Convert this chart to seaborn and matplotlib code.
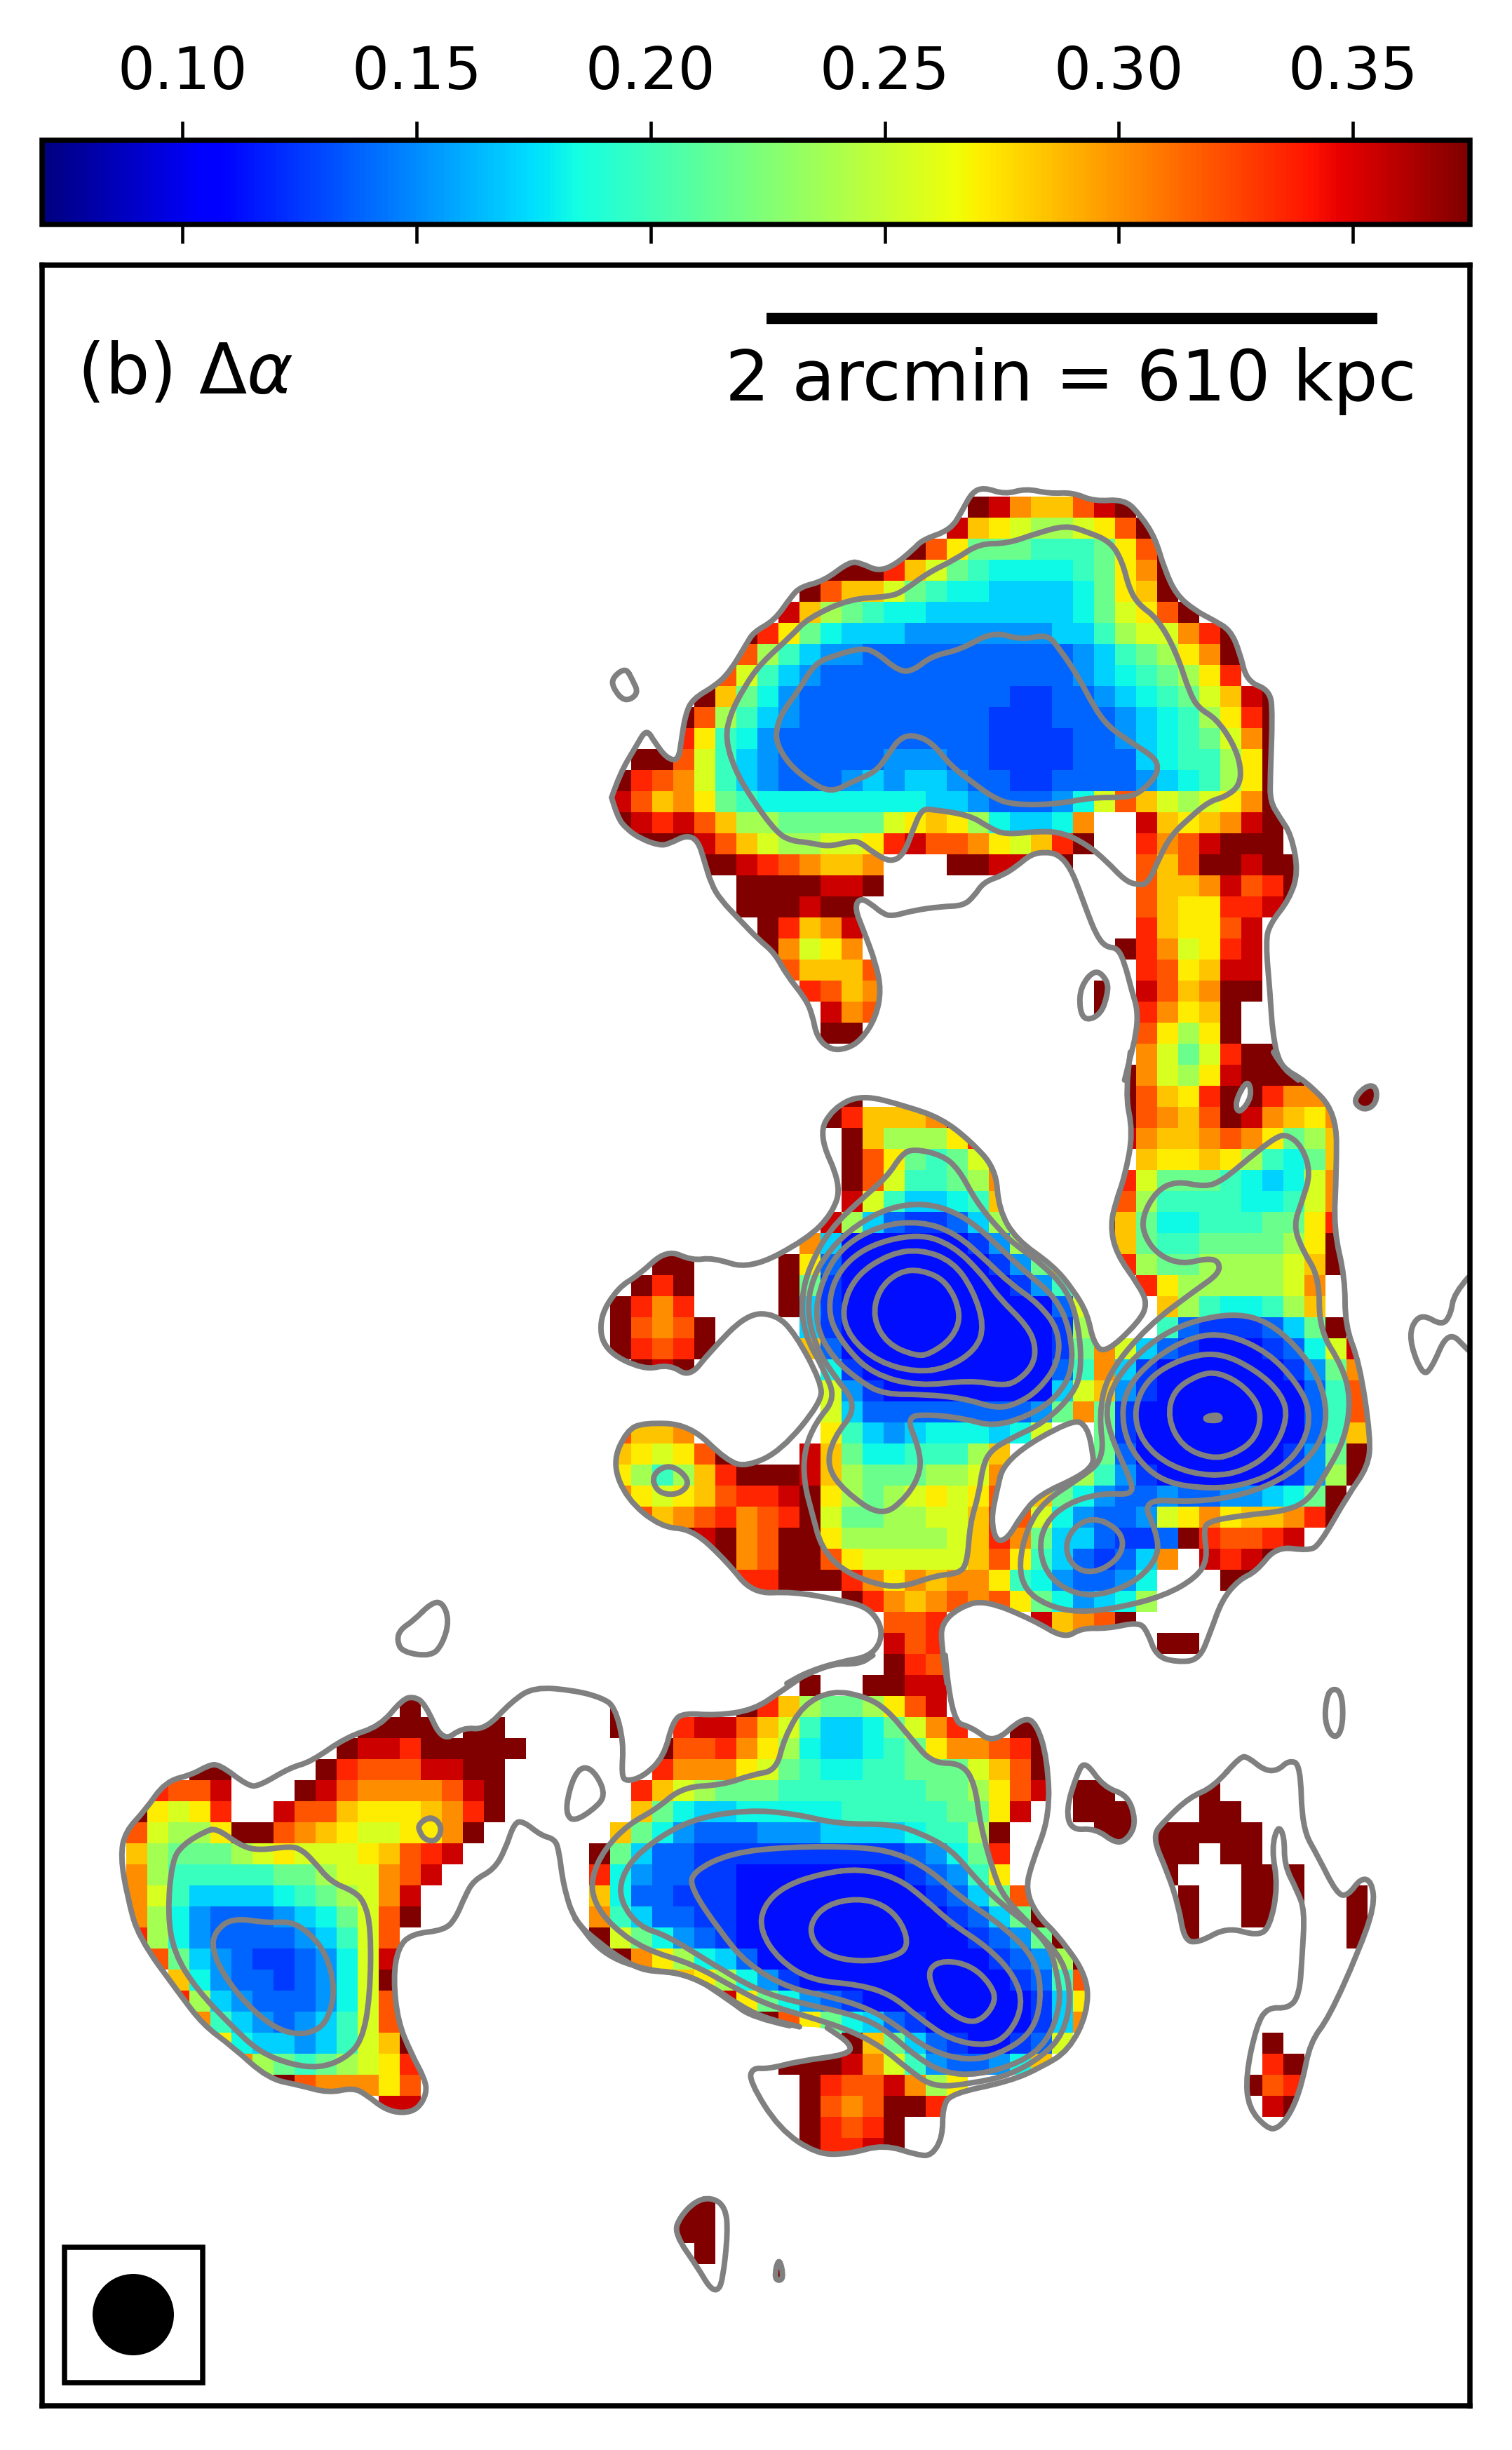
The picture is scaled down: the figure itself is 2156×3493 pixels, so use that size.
import numpy as np
import pandas as pd
import seaborn as sns
import matplotlib
matplotlib.use("Agg")
import matplotlib.pyplot as plt
from matplotlib.patches import Rectangle, Circle, PathPatch
from matplotlib.path import Path

W, H = 2156, 3493
DPI = 300
CELL = 30.0
AX = (60, 378, 2096, 3430)
CB = (60, 200, 2096, 320)
N_COLS, N_ROWS = 68, 102

# colour level (fraction along the jet scale) for every map symbol
LEVELS = dict(a=.14, b=.18, c=.225, d=.27, e=.33, f=.37, g=.42, h=.48, i=.55,
              j=.61, k=.66, l=.70, m=.76, n=.82, o=.87, p=.93, q=1.0)
VMIN, VMAX = 0.07, 0.375
CBAR_TICKS = [0.10, 0.15, 0.20, 0.25, 0.30, 0.35]

UPPER_ROWS = {
 11: "44:qpmllnpq",
 12: "43:plkjiijknq",
 13: "41:qnkhhhggghknq",
 14: "37:qqqoljhgffffghkmq",
 15: "36:qnlljhgffeeeefhklq",
 16: "35:plihgffeeeeeeefhjknq",
 17: "33:qokhfeeedddddddeegijjmoq",
 18: "32:qnigeddccccccccccdeghikmq",
 19: "31:qnjgedccccccccccccdefghiko",
 20: "31:qlhfdccccccccccbbccdefghjlpq",
 21: "30:qnigedcccccccccbbbcccdefgikoq",
 22: "30:okgfdccccccccccbbbbccdefghjmq",
 23: "28:qqnjgedcccccdddccbbbbcccefggikq",
 24: "27:qonmjgedcccdedeedccbbccccdefgikq",
 25: "27:pnlmkhgffffffffeedcccdfjnljijkmq",
 26: "27:qpopnliihhhhhjklkifeefm 52:plklmpq",
 27: "28:qqqpnljiijjkopnnmkjloq 52:omnpqqq",
 28: "30:qqqponmllm 43:qqppqq 52:nlnqqpqq",
 29: "33:qqqqppq 52:nllmpnoq",
 30: "33:qqqpqq 52:nlkkoopq",
 31: "34:qolmp 52:olkknp",
 32: "34:qmjkm 51:qomjkop",
 33: "35:nllln 52:onklpp",
 34: "36:onlm 50:q 52:pnlmqq",
 35: "37:pmn 50:q 52:omklq",
 36: "37:qq 52:nkikq",
}
MIDDLE_ROWS = {
 37: "52:mjhjoqq",
 38: "51:qmjikpqqq",
 39: "38:q 51:qnlkoqqommq 62:qq",
 40: "37:qolllmq 51:qnmlnqpmlkm 62:qq",
 41: "38:qliiiko 51:pmllmnmkhil",
 42: "38:qnkhghjn 52:lkklkigfhl",
 43: "38:qnjgghim 51:ojhhhgfefjm",
 44: "38:pjgeefgl 51:niggggffgjm",
 45: "37:piecbbceiq 50:qlhffggghhko",
 46: "36:meaaaaaabdip 51:lhgghhhhikq",
 47: "29:qq 35:qkcaaaaaaabdhl 51:oihhiiiijlq",
 48: "28:qoq 35:qhbaaaaaaaabdgn 52:okiiiiijm",
 49: "27:qomo 35:qebaaaaaaaaaacj 53:ligffgil",
 50: "27:qnmnq 36:ebaaaaaaaaaabiq 53:gcbbbcehq",
 51: "27:qonoq 36:lcaaaaaaaaaabhm 51:jecbaaabcfjp",
 52: "28:qpq 37:fbaaaaaaaaacgmebaaaaaabdhm",
 53: "37:jdbaaaaaaaaejldbaaaaaaacgn",
 54: "37:jeccccccccdhm 50:hbaaaaaaaacgn",
 55: "27:nllm 37:kgedefffefj 50:hbaaaaaaaacgl",
 56: "27:lkjknq 36:plhffgggil 50:hcaaaaaaabdhq",
 57: "27:kigiloqqq 36:plihhhiijm 49:igdbaaaaaabdiq",
 58: "27:mkjklnoop 36:qkihijkjkn 47:lhfdccdccddefhq",
 59: "28:nlmnomnoq 37:jhhiijjlo 46:njfdccdjkmkllmoq",
 60: "30:qpqmnqq 37:kiiiiijlo 46:mheecbbcq 55:onnop",
 61: "32:qmnqq 37:nkjjjjjln 46:kgecbcem 55:popq",
 62: "33:ooqq 37:qomkmlmmkgfdccdf 56:qq",
 63: "38:qomlmnmnkhfdefi",
 64: "40:nno 47:plmnq",
 65: "40:pno 53:qq",
 66: "40:qon",
}
LOWER_ROWS = {
 67: "27:q 36:q 39:qqpp",
 68: "17:q 27:q 33:qolihhiknp",
 69: "15:qqqq 20:qq 27:q 30:oppnljgeefhjmo 46:qq",
 70: "14:qppoqqqqq 29:qnnomkifeefghkmmnoq",
 71: "7:qq 13:qonnnppqq 29:ommmkjhgffgghhhjlnq",
 72: "5:onnp 12:qpnmmmmnpq 28:oljihhhggggggghhiknp 49:qq 55:q",
 73: "4:qkjko 11:pnnlkkklmoq 28:lhfeefffffggggghhkp 49:qqq 55:qq",
 74: "4:njiikqqnmlkjjkkmq 27:lhfdcccdddeeeefggiq 50:qq 53:qqqqq",
 75: "4:lihhhijkjjjklnop 26:qheccbbbbbbbbbbcdfho 53:qq 56:qq",
 76: "4:miggggghhijjmnp 26:ofdccbbaaaaaaaabcdgk 53:q 57:qq 59:q",
 77: "4:mjgeeeefghijmp 26:lfccbbbaaaaaaaaabcehn 54:q 57:qq 59:q 62:q",
 78: "4:mifdcccdefhjnq 26:mgeccbbaaaaaaaaaabcehq 54:q 57:qq 62:q",
 79: "4:oifdccccdegjn 26:qjhfdcbaaaaaaaaaaabcdhq 54:q 62:q",
 80: "5:nhedcbbcdfjp 26:qqmkifecaaaaaaaaaaabcdiq",
 81: "6:lfdccbcdfjq 28:qqlkifdbaaaaaaaaaabcgn",
 82: "6:oiedcccdfjn 32:pkhfdcbaaaaaaaabek",
 83: "7:mgedcdegjn 34:qnkhfecbaaaaabem",
 84: "8:kfeedegjlq 38:qlhecbaabcj 58:q",
 85: "9:mihghijko 35:qqqpmjgdccdfl 58:oq",
 86: "11:qnmmmkn 36:qonnpmik 57:qno",
 87: "16:pp 36:qnmnqqop 58:pq",
 88: "36:qonoq",
 89: "36:qoopq",
 92: "30:qq",
 93: "30:qq",
 94: "31:q",
 95: "34:qq",
}

# contour polylines, each read in its own view: (left, top, x scale, y scale)
VIEW_N = (840, 660, 1.493, 1.782)
VIEW_M = (820, 1500, 1.225, 1.742)
VIEW_W = (140, 2280, 1.568, 1.96)
VIEW_S = (820, 2360, 1.307, 1.704)

OUTER_N_LEFT = [(48,850),(60,900),(80,930),(110,955),(150,972),(170,968),(208,945),(232,960),(245,1010),(260,1070),(280,1110),(320,1160),(360,1210),(395,1245),(420,1300),(460,1360),(475,1400),(485,1460),(515,1492),(550,1488),(580,1465),(610,1410),(622,1340),(610,1270),(585,1190),(565,1130),(577,1105),(600,1120),(625,1145),(645,1152),(690,1137),(750,1127),(797,1125),(820,1100),(840,1065),(880,1048),(910,1025),(940,995),(970,988),(1000,995),(1025,1030),(1045,1090),(1060,1140),(1080,1200),(1100,1230),(1125,1232),(1140,1270),(1155,1340),(1168,1390),(1165,1450),(1150,1520),(1140,1568)]
OUTER_N_RIGHT = [(48,850),(65,790),(100,720),(122,675),(140,710),(165,750),(190,757),(197,700),(205,640),(220,600),(270,565),(300,530),(335,460),(350,430),(395,400),(430,340),(450,315),(500,300),(555,250),(580,255),(615,275),(650,260),(690,220),(710,195),(770,170),(795,120),(815,75),(840,62),(885,80),(930,65),(980,78),(1030,75),(1075,98),(1140,92),(1175,135),(1205,190),(1225,270),(1250,335),(1290,375),(1330,400),(1365,425),(1385,480),(1400,555),(1450,578),(1455,640),(1450,800),(1450,860),(1470,900),(1495,945),(1510,1040),(1490,1110),(1450,1170),(1440,1215),(1450,1350),(1455,1450),(1470,1530),(1510,1568)]
OUTER_M_LEFT = [(970,0),(960,100),(975,200),(960,310),(945,370),(935,430),(945,500),(985,580),(1000,625),(985,670),(925,750),(905,720),(895,650),(870,590),(835,530),(770,465),(740,390),(735,290),(690,220),(640,165),(580,135),(500,105),(450,140),(425,205),(465,330),(450,400),(405,465),(305,540),(240,510),(205,518),(160,490),(110,555),(75,585),(42,660),(50,740),(120,790),(165,775),(200,808),(235,745),(300,650),(350,650),(385,700),(430,820),(430,870),(360,990),(300,1030),(265,1015),(200,925),(120,920),(90,940),(65,1020),(90,1110),(150,1180),(205,1185),(265,1265),(310,1345),(380,1340),(460,1360),(515,1380),(540,1440),(520,1500),(460,1515),(405,1540),(370,1568)]
OUTER_M_RIGHT = [(1220,0),(1235,40),(1275,70),(1330,150),(1330,300),(1325,440),(1345,560),(1345,680),(1370,770),(1390,960),(1385,1030),(1350,1100),(1300,1225),(1280,1238),(1225,1228),(1190,1290),(1160,1310),(1130,1360),(1110,1440),(1090,1510),(1050,1515),(1015,1500),(1000,1440),(985,1415),(930,1432),(885,1430),(855,1457),(800,1410),(715,1360),(670,1380),(640,1420),(640,1470),(650,1568)]
OUTER_W = [(1568,1195),(1500,1175),(1440,1140),(1370,1080),(1290,1040),(1225,1040),(1175,1010),(1120,960),(1065,900),(1040,800),(1030,700),(1020,670),(990,660),(950,620),(930,625),(910,700),(885,755),(840,785),(820,830),(800,890),(775,925),(700,935),(670,975),(660,1060),(670,1180),(700,1270),(730,1340),(735,1380),(715,1425),(680,1437),(640,1425),(600,1385),(570,1365),(515,1380),(450,1358),(380,1340),(300,1250),(235,1190),(180,1100),(90,945),(65,830),(50,720),(60,650),(105,590),(150,510),(210,490),(245,465),(270,460),(335,522),(360,522),(430,470),(475,455),(555,385),(630,355),(680,280),(705,272),(730,290),(770,400),(815,358),(865,365),(925,285),(975,245),(1065,255),(1125,275),(1155,300),(1175,400),(1170,490),(1180,510),(1220,495),(1265,440),(1285,340),(1310,318),(1380,325),(1465,310),(1530,255),(1568,222)]
OUTER_S_TOP = [(418,56),(470,20),(530,22),(555,0)]
OUTER_S_TAIL = [(400,900),(330,880),(290,840),(215,775),(130,765),(50,725),(0,640)]
OUTER_S = [(690,0),(700,160),(740,175),(780,215),(835,150),(860,165),(880,250),(885,390),(850,510),(840,570),(860,630),(900,680),(955,780),(955,870),(920,960),(870,1000),(810,1035),(700,1065),(685,1100),(685,1170),(665,1215),(640,1215),(575,1188),(510,1212),(450,1212),(380,1150),(325,1035),(330,1002),(360,1005),(420,985),(510,970),(515,945),(470,905)]

ISLAND_N = [(1078,1285),(1104,1315),(1104,1350),(1090,1400),(1058,1418),(1044,1390),(1046,1330),(1078,1285)]
ISLAND_M = [(1380,84),(1400,84),(1400,128),(1378,146),(1358,122),(1380,84)]
ISLAND_S_A = [(950,255),(985,320),(1030,340),(1045,400),(1035,440),(1010,460),(970,420),(925,425),(915,375),(935,290),(950,255)]
ISLAND_S_B = [(1240,245),(1255,248),(1285,280),(1310,280),(1330,255),(1352,265),(1355,420),(1385,490),(1420,580),(1440,585),(1465,540),(1485,550),(1490,610),(1460,720),(1405,880),(1370,940),(1355,1040),(1335,1110),(1310,1150),(1290,1150),(1255,1100),(1250,1020),(1270,900),(1290,855),(1330,858),(1350,825),(1355,730),(1360,620),(1345,570),(1322,510),(1322,440),(1310,412),(1298,470),(1310,560),(1295,660),(1272,682),(1215,660),(1160,700),(1135,690),(1125,610),(1105,530),(1075,440),(1100,400),(1145,345),(1190,320),(1240,245)]
ISLAND_S_C = [(255,1317),(280,1340),(285,1400),(275,1520),(265,1545),(250,1535),(230,1490),(185,1405),(195,1365),(225,1325),(255,1317)]
ISLAND_S_D = [(380,1458),(390,1518),(370,1518),(380,1458)]
HOLE_M_BRIDGE = [(1175,65),(1183,110),(1160,155),(1152,125),(1175,65)]
HOLE_M_OVAL = [(750,1010),(870,910),(895,930),(905,1000),(905,1025),(880,1055),(810,1100),(780,1150),(755,1210),(735,1215),(727,1160),(735,1100),(750,1010)]

CONTOURS_N = [
 [(290,700),(300,640),(330,570),(365,510),(430,440),(465,395),(555,345),(640,340),(670,325),(720,280),(780,245),(830,205),(890,205),(950,180),(1015,158),(1060,175),(1110,200),(1135,250),(1150,320),(1170,360),(1210,395),(1250,480),(1280,590),(1300,625),(1335,650),(1370,710),(1388,770),(1385,820),(1355,848),(1320,860),(1280,900),(1240,945),(1215,1000),(1190,1070),(1165,1072),(1140,1060),(1100,1010),(1060,970),(1010,940),(960,935),(885,945),(850,925),(810,895),(730,880),(708,880),(690,930),(670,995),(642,1015),(605,990),(575,962),(555,962),(510,975),(470,965),(430,960),(400,940),(350,860),(310,780),(290,700)],
 [(398,680),(410,635),(445,580),(480,510),(520,490),(580,470),(610,480),(660,530),(690,528),(730,490),(790,475),(860,428),(920,450),(975,435),(1000,470),(1040,540),(1075,620),(1105,670),(1160,715),(1200,745),(1212,770),(1205,800),(1170,840),(1140,850),(1070,850),(990,868),(900,868),(860,850),(820,815),(770,770),(730,710),(690,690),(660,700),(635,745),(610,785),(560,810),(515,838),(470,810),(425,765),(400,715),(398,680)],
 [(78,520),(50,545),(50,570),(75,608),(106,587),(92,550),(78,520)],
]
CONTOURS_M = [
 [(590,240),(640,255),(670,290),(700,370),(740,440),(770,480),(810,520),(860,590),(880,680),(885,790),(870,850),(820,920),(760,960),(725,990),(712,1030),(705,1100),(690,1170),(685,1270),(670,1295),(630,1300),(570,1330),(520,1320),(465,1285),(430,1230),(415,1150),(400,1070),(400,990),(420,920),(455,860),(435,790),(400,700),(395,610),(410,530),(445,440),(500,365),(545,310),(570,255),(590,240)],
 [(578,905),(620,900),(680,910),(730,930),(790,905),(840,860),(870,790),(865,690),(840,610),(790,550),(745,490),(700,430),(660,395),(610,375),(550,385),(490,430),(445,490),(415,560),(405,640),(420,730),(450,800),(495,880),(450,960),(440,1030),(470,1090),(535,1155),(580,1105),(605,1040),(600,980),(578,905)],
 [(735,885),(680,860),(610,850),(540,850),(500,820),(450,760),(420,680),(425,590),(460,490),(530,430),(605,420),(665,450),(720,520),(760,575),(810,625),(845,690),(845,770),(810,840),(770,875),(735,885)],
 [(745,828),(690,815),(600,830),(520,800),(470,730),(440,650),(455,550),(510,480),(600,450),(660,480),(710,550),(740,610),(790,680),(805,730),(800,780),(770,820),(745,828)],
 [(595,795),(530,770),(480,710),(465,640),(490,555),(550,500),(605,490),(660,520),(695,590),(715,680),(700,740),(650,785),(595,795)],
 [(595,755),(545,725),(520,660),(530,590),(565,545),(605,540),(650,570),(675,650),(660,710),(620,750),(595,755)],
 [(135,1050),(160,1025),(185,1040),(200,1070),(185,1095),(160,1100),(140,1085),(135,1050)],
 [(1245,205),(1270,235),(1285,300),(1270,370),(1255,430),(1270,490),(1300,560),(1300,690),(1340,780),(1355,860),(1345,960),(1310,1050),(1280,1115),(1240,1140),(1170,1150),(1105,1165),(1098,1190),(1105,1260),(1085,1305),(1030,1350),(950,1380),(880,1392),(825,1375),(785,1335),(775,1270),(790,1180),(820,1115),(880,1060),(925,1010),(915,900),(930,800),(1000,680),(1085,590),(1125,550),(1125,520),(1105,512),(1060,527),(1020,505),(995,460),(990,410),(1015,345),(1050,320),(1100,335),(1130,320),(1180,260),(1225,210),(1245,205)],
 [(990,1110),(1080,1118),(1170,1100),(1250,1050),(1300,980),(1315,900),(1300,810),(1260,730),(1210,670),(1160,650),(1100,660),(1040,690),(990,740),(945,810),(925,890),(940,970),(970,1060),(975,1100),(920,1095),(860,1120),(820,1170),(810,1240),(830,1310),(880,1350),(930,1345),(985,1310),(1020,1250),(1015,1190),(990,1110)],
 [(905,1155),(870,1180),(855,1230),(870,1280),(905,1295),(945,1265),(960,1220),(945,1180),(905,1155)],
 [(1110,1085),(1030,1070),(980,1010),(955,930),(960,840),(1010,760),(1080,705),(1140,700),(1210,745),(1260,820),(1285,890),(1275,970),(1230,1040),(1170,1075),(1110,1085)],
 [(1110,1055),(1040,1030),(990,970),(975,890),(1000,810),(1060,760),(1125,745),(1190,790),(1235,850),(1245,910),(1220,990),(1170,1040),(1110,1055)],
 [(1110,1010),(1060,980),(1035,910),(1045,840),(1090,800),(1125,795),(1170,830),(1200,890),(1190,960),(1150,1000),(1110,1010)],
 [(1102,905),(1125,900),(1128,915),(1102,915),(1102,905)],
 [(1560,560),(1535,600),(1530,650),(1515,680),(1480,650),(1460,680),(1460,730),(1480,800),(1495,790),(1525,690),(1560,740)],
]
CONTOURS_W = [
 [(745,10),(770,8),(785,60),(770,125),(745,160),(680,148),(668,115),(675,85),(705,60),(745,10)],
 [(1088,465),(1115,490),(1135,550),(1105,590),(1065,620),(1048,605),(1048,560),(1065,490),(1088,465)],
 [(745,605),(770,635),(758,676),(732,674),(718,650),(716,628),(745,605)],
 [(265,640),(320,690),(360,702),(430,690),(455,700),(480,730),(520,790),(570,815),(595,845),(610,920),(608,1110),(590,1235),(550,1285),(495,1310),(430,1300),(360,1265),(300,1195),(220,1090),(170,990),(155,880),(165,730),(190,685),(240,648),(265,640)],
 [(300,890),(380,905),(430,900),(470,930),(510,990),(530,1090),(515,1170),(490,1205),(445,1218),(390,1195),(330,1130),(280,1050),(255,980),(260,930),(300,890)],
]
CONTOURS_S = [
 [(480,85),(540,100),(580,130),(625,200),(665,262),(720,262),(745,310),(755,410),(780,530),(800,590),(860,670),(910,740),(925,830),(910,920),(870,975),(810,1020),(740,1040),(668,1050),(620,1005),(570,950),(510,910),(440,880),(360,850),(300,810),(220,750),(130,715),(70,660),(35,600),(30,540),(55,470),(100,410),(150,375),(200,320),(275,315),(330,290),(375,280),(390,200),(425,120),(480,85)],
 [(320,375),(410,385),(490,410),(590,410),(640,430),(700,470),(745,540),(790,600),(880,690),(900,780),(905,850),(880,940),(830,990),(750,1020),(690,1015),(640,980),(570,900),(510,870),(420,845),(340,815),(250,745),(170,680),(120,660),(85,600),(85,540),(120,475),(210,400),(320,375)],
 [(530,465),(600,480),(660,520),(720,590),(800,660),(860,740),(870,840),(850,920),(790,970),(730,985),(660,960),(600,900),(550,860),(480,830),(400,810),(320,750),(270,670),(215,565),(220,525),(290,480),(400,465),(530,465)],
 [(530,518),(600,540),(650,590),(700,650),(770,710),(820,780),(835,850),(810,920),(770,950),(700,935),(640,880),(590,825),(530,800),(440,790),(380,740),(345,670),(350,610),(390,560),(460,530),(530,518)],
 [(525,590),(575,605),(610,650),(622,710),(590,735),(530,745),(470,730),(440,690),(440,645),(470,605),(525,590)],
 [(690,740),(740,755),(775,800),(785,840),(760,885),(730,892),(690,860),(665,810),(658,760),(690,740)],
 [(1410,80),(1428,88),(1432,150),(1425,195),(1410,198),(1397,160),(1400,105),(1410,80)],
]


def build_map():
    grid = np.full((N_ROWS, N_COLS), np.nan)
    for rows in (UPPER_ROWS, MIDDLE_ROWS, LOWER_ROWS):
        for r, spec in rows.items():
            for part in spec.split():
                start, chars = part.split(":")
                for k, ch in enumerate(chars):
                    grid[r, int(start) + k] = VMIN + LEVELS[ch] * (VMAX - VMIN)
    return grid


def cx(x):
    return (x - AX[0]) / CELL


def cy(y):
    return (y - AX[1]) / CELL


def to_map(view, pts):
    left, top, sx, sy = view
    arr = np.array(pts, dtype=float)
    return np.column_stack([cx(left + arr[:, 0] / sx), cy(top + arr[:, 1] / sy)])


def smooth_path(arr, closed):
    """Path that rounds the corners of a polyline with quadratic curves."""
    if closed:
        if np.allclose(arr[0], arr[-1]):
            arr = arr[:-1]
        nxt = np.roll(arr, -1, axis=0)
        mids = (arr + nxt) / 2
        verts = [mids[-1]]
        codes = [Path.MOVETO]
        for p, m in zip(arr, mids):
            verts += [p, m]
            codes += [Path.CURVE3, Path.CURVE3]
    else:
        verts = [arr[0]]
        codes = [Path.MOVETO]
        for i in range(1, len(arr) - 1):
            verts += [arr[i], (arr[i] + arr[i + 1]) / 2]
            codes += [Path.CURVE3, Path.CURVE3]
        verts.append(arr[-1])
        codes.append(Path.LINETO)
    return np.array(verts), codes


def signed_area(a):
    return 0.5 * np.sum(a[:, 0] * np.roll(a[:, 1], -1) - np.roll(a[:, 0], -1) * a[:, 1])


fig = plt.figure(figsize=(W / DPI, H / DPI), dpi=DPI)
ax = fig.add_axes([AX[0] / W, 1 - AX[3] / H, (AX[2] - AX[0]) / W, (AX[3] - AX[1]) / H])
cax = fig.add_axes([CB[0] / W, 1 - CB[3] / H, (CB[2] - CB[0]) / W, (CB[3] - CB[1]) / H])

sns.heatmap(pd.DataFrame(build_map()), ax=ax, cmap="jet", vmin=VMIN, vmax=VMAX,
            cbar_ax=cax, xticklabels=False, yticklabels=False,
            cbar_kws=dict(orientation="horizontal", ticks=CBAR_TICKS, format="%.2f"))
ax.set_xlim(0, cx(AX[2]))
ax.set_ylim(cy(AX[3]), 0)
ax.set_xlabel("")
ax.set_ylabel("")
ax.set_aspect("auto")
for s in ax.spines.values():
    s.set_visible(True)
    s.set_linewidth(1.8)
    s.set_color("black")

cbar = ax.collections[0].colorbar
cbar.outline.set_visible(True)
cbar.outline.set_linewidth(1.8)
cbar.outline.set_edgecolor("black")
cax.tick_params(axis="x", which="major", top=True, bottom=True, labeltop=True, labelbottom=False,
                length=6.5, width=1.1, labelsize=20, pad=7)
cax.tick_params(axis="x", which="minor", length=0)

# the colour only exists inside the outermost contour
outer = np.vstack([
    to_map(VIEW_N, OUTER_N_LEFT),
    to_map(VIEW_M, OUTER_M_LEFT),
    to_map(VIEW_W, OUTER_W[::-1]),
    to_map(VIEW_S, OUTER_S[::-1]),
    to_map(VIEW_M, OUTER_M_RIGHT[::-1]),
    to_map(VIEW_N, OUTER_N_RIGHT[::-1]),
])
parts = [(outer, +1)]
for v, p in ((VIEW_N, ISLAND_N), (VIEW_M, ISLAND_M), (VIEW_S, ISLAND_S_A), (VIEW_S, ISLAND_S_B),
             (VIEW_S, ISLAND_S_C), (VIEW_S, ISLAND_S_D)):
    parts.append((to_map(v, p), +1))
for v, p in ((VIEW_M, HOLE_M_BRIDGE), (VIEW_M, HOLE_M_OVAL)):
    parts.append((to_map(v, p), -1))
all_v, all_c = [], []
for arr, sign in parts:
    if np.sign(signed_area(arr)) != sign:
        arr = arr[::-1]
    v, c = smooth_path(arr, True)
    all_v.append(v)
    all_c += c
ax.collections[0].set_clip_path(Path(np.vstack(all_v), all_c), ax.transData)

GREY = dict(fc="none", ec="#808080", lw=1.9, joinstyle="round", capstyle="round")
groups = [
    (VIEW_N, [OUTER_N_LEFT, OUTER_N_RIGHT, ISLAND_N] + CONTOURS_N),
    (VIEW_M, [OUTER_M_LEFT, OUTER_M_RIGHT, ISLAND_M, HOLE_M_BRIDGE, HOLE_M_OVAL] + CONTOURS_M),
    (VIEW_W, [OUTER_W] + CONTOURS_W),
    (VIEW_S, [OUTER_S_TOP, OUTER_S, OUTER_S_TAIL, ISLAND_S_A, ISLAND_S_B, ISLAND_S_C, ISLAND_S_D] + CONTOURS_S),
]
for view, paths in groups:
    for p in paths:
        v, c = smooth_path(to_map(view, p), p[0] == p[-1])
        ax.add_patch(PathPatch(Path(v, c), **GREY))

# scale bar, labels and beam
ax.plot([cx(1093), cx(1964)], [cy(454), cy(454)], color="black", lw=3.9, solid_capstyle="butt")
ax.text(cx(2020), cy(571), "2 arcmin = 610 kpc", ha="right", va="baseline", fontsize=24)
ax.text(cx(110), cy(561), r"(b) $\Delta\alpha$", ha="left", va="baseline", fontsize=24)
ax.add_patch(Rectangle((cx(92), cy(3204)), cx(289) - cx(92), cy(3397) - cy(3204),
                       fill=False, ec="black", lw=1.8))
ax.add_patch(Circle((cx(190), cy(3300)), 58 / CELL, fc="black", ec="none"))

fig.savefig("out.png", dpi=DPI, facecolor="white")
